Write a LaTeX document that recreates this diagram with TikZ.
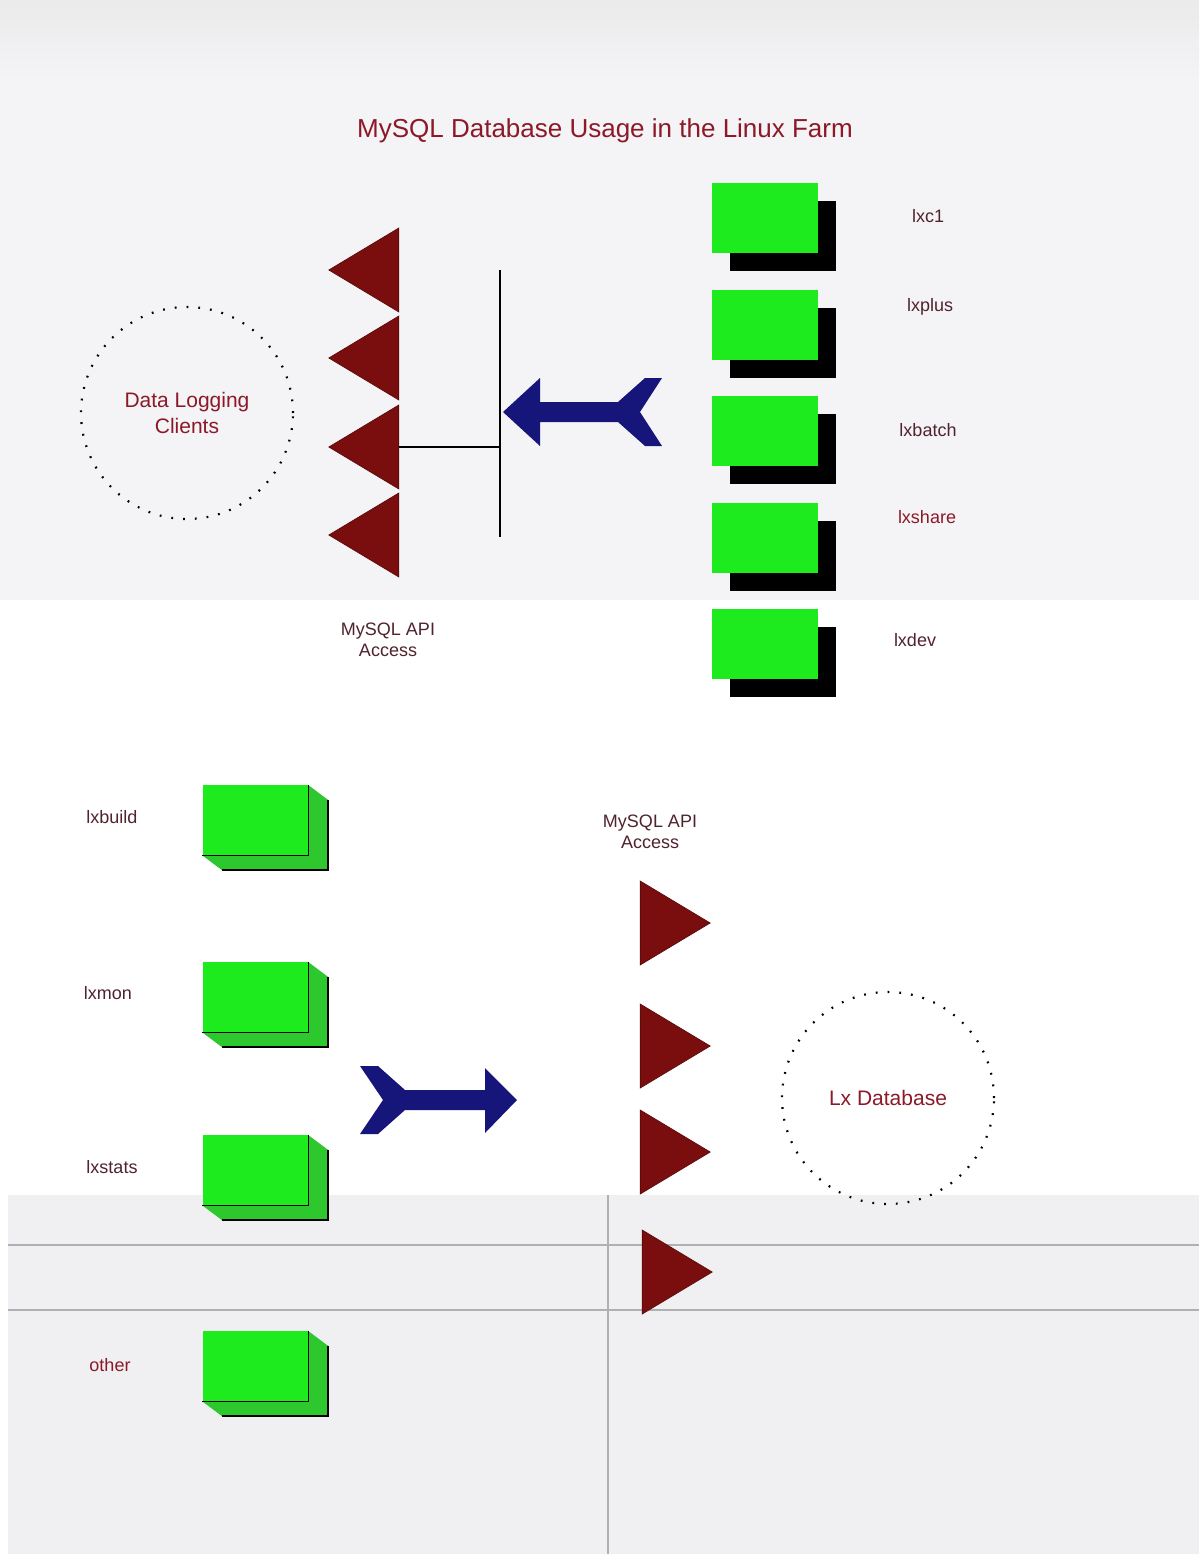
\documentclass[tikz,border=0pt]{standalone}
\usepackage{fontspec}
\setmainfont{Liberation Sans}
\usetikzlibrary{positioning,shapes.geometric,shadows}

\definecolor{boxgreen}{RGB}{30,235,30}
\definecolor{sidegreen}{RGB}{45,200,45}
\definecolor{trired}{RGB}{122,14,14}
\definecolor{arrowblue}{RGB}{22,22,122}
\definecolor{labelred}{RGB}{140,25,40}
\definecolor{labeldark}{RGB}{80,35,45}
\definecolor{topgray}{RGB}{244,243,246}
\definecolor{botgray}{RGB}{240,239,242}
\definecolor{gridgray}{RGB}{176,176,180}

\begin{document}
\begin{tikzpicture}[x=1pt,y=-1pt,node distance=106.5pt,semithick]
  \tikzstyle{topbox}=[fill=boxgreen,minimum width=106pt,minimum height=70pt,inner sep=0pt,
                      general shadow={fill=black,shadow xshift=18pt,shadow yshift=-18pt}]
  \tikzstyle{botbox}=[fill=boxgreen,minimum width=105pt,minimum height=70pt,inner sep=0pt]
  \tikzstyle{tri}=[isosceles triangle,isosceles triangle stretches,fill=trired,draw=trired!70!black,
                   minimum width=84pt,minimum height=70pt,inner sep=0pt]
  \tikzstyle{cloud}=[circle,draw=black,line width=2.2pt,dash pattern=on 1.8pt off 10pt,
                     minimum size=212pt,align=center,text=labelred,font=\fontsize{21}{26}\selectfont]
  \tikzstyle{lbl}=[font=\fontsize{18}{21}\selectfont,text=labeldark,align=center]

  % page background
  \useasboundingbox (0,0) rectangle (1199,1554);
  \fill[white] (0,0) rectangle (1199,1554);
  \fill[topgray] (0,0) rectangle (1199,600);
  \shade[top color=black!8,bottom color=topgray] (0,0) rectangle (1199,80);
  \fill[botgray] (8,1195) rectangle (1199,1554);
  \draw[gridgray,line width=2pt] (8,1245) -- (1199,1245) (8,1310) -- (1199,1310);
  \draw[gridgray,line width=1.5pt] (608,1195) -- (608,1554);

  \node[font=\fontsize{26}{30}\selectfont,text=labelred] (title) at (605,131)
       {MySQL Database Usage in the Linux Farm};

  % farm nodes, top
  \node[topbox] (b1) at (765,218) {};
  \node[topbox] (b2) [below of=b1] {};
  \node[topbox] (b3) [below of=b2] {};
  \node[topbox] (b4) [below of=b3] {};
  \node[topbox] (b5) [below of=b4] {};
  \node[lbl] (l1) at (928,216) {lxc1};
  \node[lbl] (l2) at (930,307) {lxplus};
  \node[lbl] (l3) at (928,430) {lxbatch};
  \node[lbl,text=labelred] (l4) at (927,517) {lxshare};
  \node[lbl] (l5) at (915,640) {lxdev};

  % mysql servers, top
  \node[tri,shape border rotate=180] (t1) at (375,270) {};
  \node[tri,shape border rotate=180] (t2) at (375,358) {};
  \node[tri,shape border rotate=180] (t3) at (375,447) {};
  \node[tri,shape border rotate=180] (t4) at (375,535) {};
  \node[lbl] (api1) at (388,640) {MySQL API\\Access};

  \node[cloud] (clients) at (187,413) {Data Logging\\Clients};

  \coordinate (bustop) at (500,270);
  \coordinate (busbot) at (500,537);
  \draw[line width=2pt] (bustop) -- (busbot);
  \draw[line width=2pt] (t3.lower side) -- (t3.lower side -| bustop);

  % big arrow, farm -> bus
  \coordinate (tipA) at (503,412);
  \fill[arrowblue] (tipA) -- ++(37,-34) -- ++(0,24) -- ++(78,0) -- ++(27,-24) -- ++(17,0)
     -- ++(-22,34) -- ++(22,34) -- ++(-17,0) -- ++(-27,-24) -- ++(-78,0) -- ++(0,24) -- cycle;

  % farm nodes, bottom
  \node[botbox] (c1) at (255,820) {};
  \node[botbox] (c2) at (255,997) {};
  \node[botbox] (c3) at (255,1170) {};
  \node[botbox] (c4) at (255,1366) {};
  \foreach \b in {c1,c2,c3,c4}{
    \fill[sidegreen] (\b.north east) -- ++(20,15) -- ([shift={(20,15)}]\b.south east)
       -- ([shift={(20,15)}]\b.south west) -- (\b.south west) -- (\b.south east) -- cycle;
    \draw[line width=2pt] ([shift={(20,15)}]\b.north east) -- ([shift={(20,15)}]\b.south east)
       -- ([shift={(20,15)}]\b.south west);
    \draw[line width=1.5pt] (\b.north east) -- (\b.south east) -- (\b.south west);
    \node[botbox] at (\b) {};
  }
  \node[lbl] (m1) at (112,817) {lxbuild};
  \node[lbl] (m2) at (108,993) {lxmon};
  \node[lbl] (m3) at (112,1167) {lxstats};
  \node[lbl,text=labelred] (m4) at (110,1365) {other};

  % big arrow, farm -> servers
  \coordinate (tipB) at (517,1100);
  \fill[arrowblue] (tipB) -- ++(-32,-32) -- ++(0,22) -- ++(-80,0) -- ++(-27,-24) -- ++(-18,0)
     -- ++(23,34) -- ++(-23,34) -- ++(18,0) -- ++(27,-24) -- ++(80,0) -- ++(0,23) -- cycle;

  % mysql servers, bottom
  \node[tri] (s1) at (664,923) {};
  \node[tri] (s2) at (664,1046) {};
  \node[tri] (s3) at (664,1152) {};
  \node[tri] (s4) at (666,1272) {};
  \node[lbl] (api2) at (650,832) {MySQL API\\Access};

  \node[cloud] (lxdb) at (888,1098) {Lx Database};
\end{tikzpicture}
\end{document}
